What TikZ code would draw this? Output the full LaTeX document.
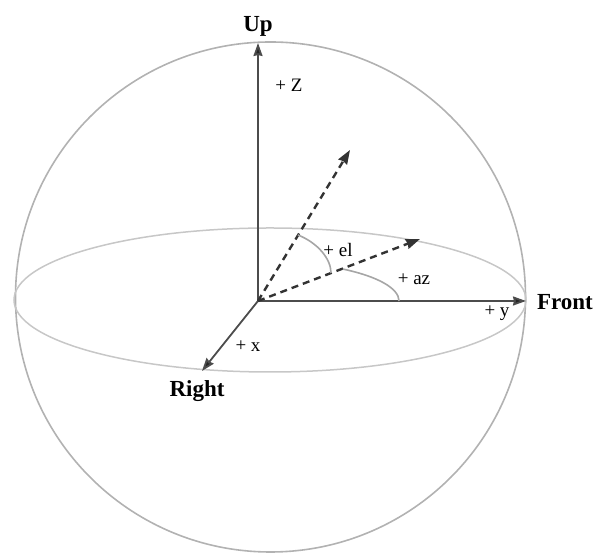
\documentclass[tikz,border=0pt]{standalone}
\usepackage{fontspec}
\setmainfont{Liberation Serif}
\usetikzlibrary{arrows.meta}
\begin{document}
\begin{tikzpicture}[x=1pt,y=1pt,
  axis/.style={draw=black!70, line width=1.8pt, -{Stealth[length=13pt,width=9pt,inset=1pt,fill=black!85]}},
  dashvec/.style={draw=black!80, line width=2.4pt, dash pattern=on 7pt off 5pt, -{Stealth[length=14pt,width=10pt,inset=1pt]}},
  big/.style={font=\fontsize{23}{25}\selectfont\bfseries, inner sep=0pt},
  small/.style={font=\fontsize{19}{21}\selectfont, inner sep=0pt},
  arcline/.style={draw=black!35, line width=1.6pt}]
\useasboundingbox (0,0) rectangle (595,553);
% sphere and equator
\draw[draw=black!30, line width=1.6pt] (270.5,256) circle[radius=255];
\draw[draw=black!22, line width=1.5pt] (270,253) ellipse[x radius=256, y radius=72];
% coordinates
\coordinate (O) at (258,252);
\coordinate (upT) at (258,510);
\coordinate (frontT) at (526,252);
\coordinate (rightT) at (202,182);
\coordinate (elT) at (350,403);
\coordinate (azT) at (420,314);
\coordinate (elA) at (298,318);
\coordinate (elB) at (331,280);
\coordinate (azA) at (399,252);
% axes
\draw[axis] (O) -- (upT);
\draw[axis] (O) -- (frontT);
\draw[axis] (O) -- (rightT);
% dashed vectors
\draw[dashvec] (O) -- (elT);
\draw[dashvec] (O) -- (azT);
% angle arcs
\draw[arcline] (elA) .. controls (318,310) and (331,294) .. (elB);
\draw[arcline] (azA) arc[start angle=0, end angle=53, x radius=141, y radius=40];
% labels
\node[big] (up) at (258,527) {Up};
\node[big] (front) at (565,251) {Front};
\node[big] (right) at (197,162) {Right};
\node[small] (z) at (289,468) {+ Z};
\node[small] (y) at (497,240) {+ y};
\node[small] (x) at (248,207) {+ x};
\node[small] (el) at (338,303) {+ el};
\node[small] (az) at (414,274) {+ az};
\end{tikzpicture}
\end{document}
